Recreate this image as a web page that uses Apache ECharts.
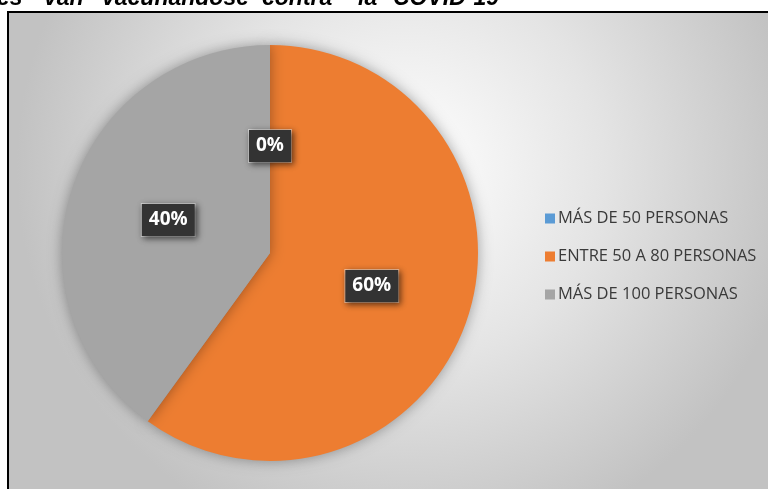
<!DOCTYPE html>
<html>
<head>
<meta charset="utf-8">
<script src="https://cdn.jsdelivr.net/npm/echarts@6/dist/echarts.min.js"></script>
<style>
  html, body { margin: 0; padding: 0; background: #fff; }
  #main { width: 768px; height: 489px; }
</style>
</head>
<body>
<div id="main"></div>
<script>
// datos de la gráfica
var categorias = ['MÁS DE 50 PERSONAS', 'ENTRE 50 A 80 PERSONAS', 'MÁS DE 100 PERSONAS'];
var porcentajes = [0, 60, 40];
var colores = ['#5B9BD5', '#ED7D31', '#A5A5A5'];
// título recortado arriba (palabras sueltas, justificado)
var tituloPalabras = ['es', 'van', 'vacunándose', 'contra', 'la', 'COVID-19'];
var tituloX = [-3, 44, 102, 262, 358, 393];

var myChart = echarts.init(document.getElementById('main'));

var graficos = [{
  type: 'rect',
  z: -10,
  shape: { x: 8, y: 12, width: 800, height: 520 },
  style: {
    fill: {
      type: 'radial', x: 0.5, y: 0.3, r: 0.75,
      colorStops: [
        { offset: 0, color: '#ffffff' },
        { offset: 0.5, color: '#e4e4e4' },
        { offset: 1, color: '#c2c2c2' }
      ]
    },
    stroke: '#000', lineWidth: 2
  }
}];
tituloPalabras.forEach(function (w, i) {
  graficos.push({
    type: 'text',
    x: tituloX[i], y: 10,
    z: 10,
    style: {
      text: w,
      font: 'italic bold 23px "Liberation Sans", Arial',
      fill: '#000',
      verticalAlign: 'bottom'
    }
  });
});
// tapa la parte superior del título (recortado en la imagen original)
graficos.push({
  type: 'rect', z: 20,
  shape: { x: 0, y: -20, width: 768, height: 20 },
  style: { fill: '#fff' }
});

var option = {
  animation: false,
  graphic: graficos,
  legend: {
    orient: 'vertical',
    left: 540,
    top: 204,
    itemWidth: 10,
    itemHeight: 10,
    itemGap: 19,
    itemStyle: { borderWidth: 0 },
    icon: 'rect',
    textStyle: { fontSize: 16.5, color: '#3a3a3a', fontFamily: 'Open Sans', lineHeight: 19, padding: [0, 0, 0, -2] },
    data: categorias
  },
  series: [{
    type: 'pie',
    center: [270, 253],
    radius: 208,
    startAngle: 90,
    clockwise: true,
    minShowLabelAngle: -1,
    stillShowZeroSum: true,
    itemStyle: {
      shadowBlur: 14,
      shadowColor: 'rgba(0,0,0,0.35)'
    },
    label: {
      show: true,
      position: 'inside',
      formatter: '{d}%',
      color: '#fff',
      fontSize: 19,
      fontWeight: 'bold',
      fontFamily: 'Open Sans',
      backgroundColor: '#333333',
      borderColor: 'rgba(255,255,255,0.5)',
      borderWidth: 1,
      padding: [8, 7, 5, 7],
      shadowBlur: 6,
      shadowColor: 'rgba(0,0,0,0.6)',
      shadowOffsetX: 2,
      shadowOffsetY: 2
    },
    labelLine: { show: false },
    data: categorias.map(function (c, i) {
      return { name: c, value: porcentajes[i], itemStyle: { color: colores[i] } };
    })
  }]
};
myChart.setOption(option);
</script>
</body>
</html>
